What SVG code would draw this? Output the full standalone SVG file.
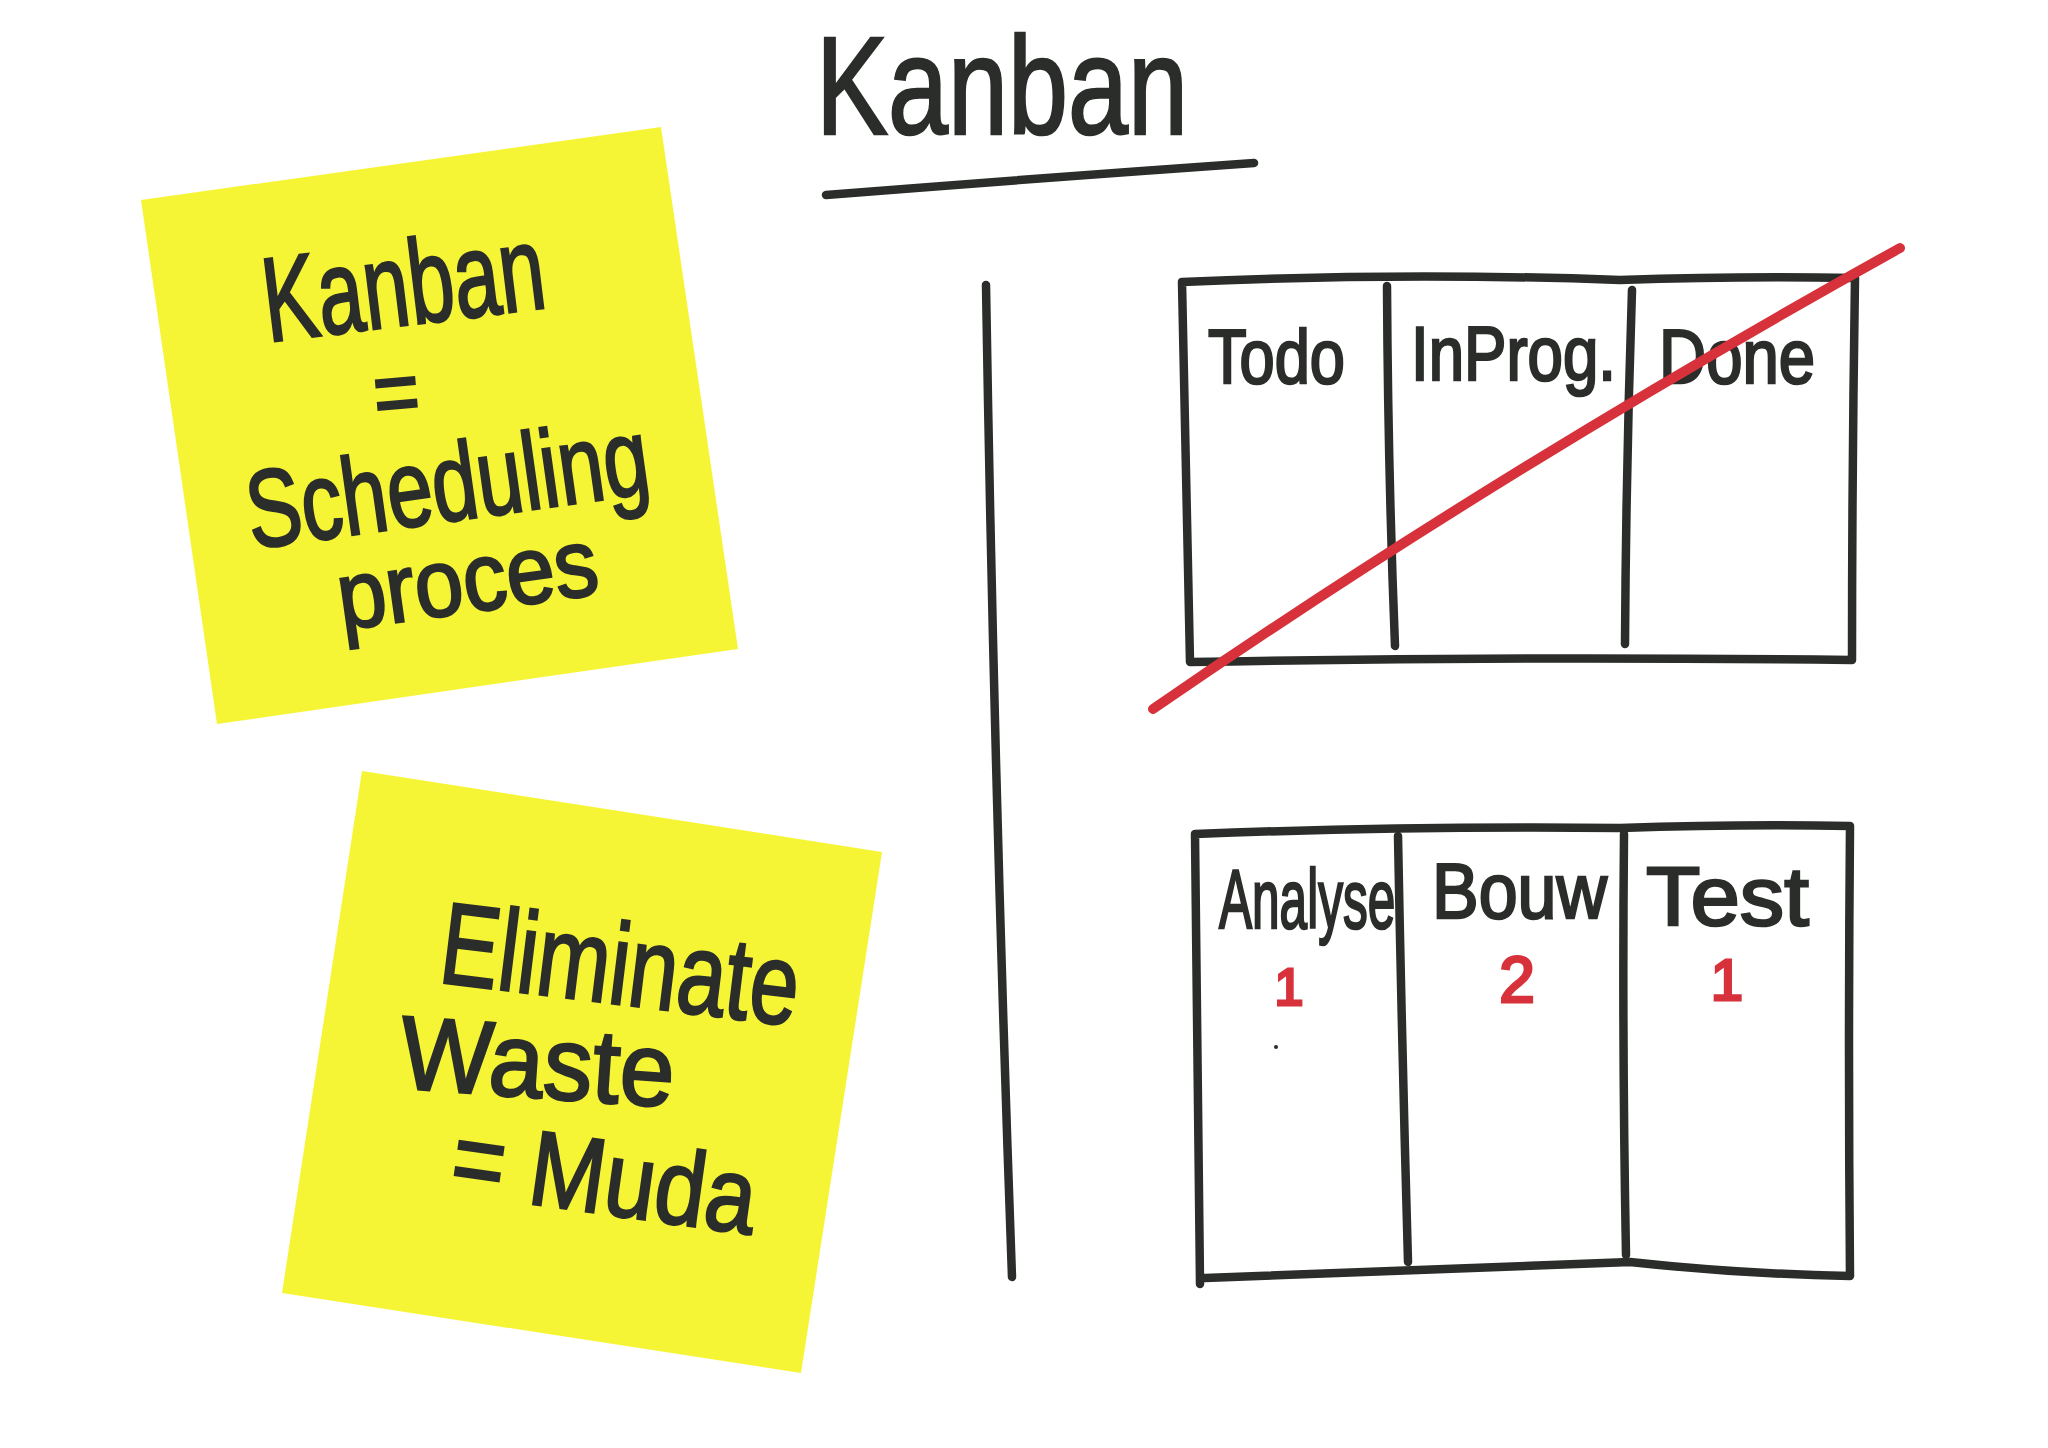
<svg xmlns="http://www.w3.org/2000/svg" width="2048" height="1448" viewBox="0 0 2048 1448">
<style>
.ink{fill:none;stroke:#2a2d2a;stroke-width:8.5;stroke-linecap:round;stroke-linejoin:round}
.red{fill:none;stroke:#d7323b;stroke-width:10;stroke-linecap:round}
.sticky{fill:#f6f535}
.hw{font-family:"Liberation Sans","DejaVu Sans",sans-serif;fill:#2a2d2a;stroke:#2a2d2a;stroke-width:2.5}
.rn{font-family:"Liberation Sans","DejaVu Sans",sans-serif;fill:#d7323b;stroke:#d7323b;stroke-width:3;text-anchor:middle}
</style>
<rect width="2048" height="1448" fill="#ffffff"/>

<g id="title">
<text class="hw" x="816" y="134" font-size="140" textLength="372" lengthAdjust="spacingAndGlyphs">Kanban</text>
<path class="ink" d="M826 195 Q1040 178 1254 163"/>
</g>

<g id="sticky-kanban">
<polygon class="sticky" points="141,200 661,127 738,649 217,724"/>
<text class="hw" x="268" y="342" font-size="120" textLength="283" lengthAdjust="spacingAndGlyphs" transform="rotate(-7 268 342)">Kanban</text>
<text class="hw" x="376" y="425" font-size="90" textLength="46" lengthAdjust="spacingAndGlyphs" transform="rotate(-5 376 425)">=</text>
<text class="hw" x="252" y="549" font-size="110" textLength="405" lengthAdjust="spacingAndGlyphs" transform="rotate(-8 252 549)">Scheduling</text>
<text class="hw" x="342" y="630" font-size="96" textLength="262" lengthAdjust="spacingAndGlyphs" transform="rotate(-8 342 630)">proces</text>
</g>

<g id="sticky-waste">
<polygon class="sticky" points="362,771 882,852 801,1373 282,1293"/>
<text class="hw" x="437" y="982" font-size="116" textLength="360" lengthAdjust="spacingAndGlyphs" transform="rotate(7 437 982)">Eliminate</text>
<text class="hw" x="398" y="1088" font-size="104" textLength="275" lengthAdjust="spacingAndGlyphs" transform="rotate(4 398 1088)">Waste</text>
<text class="hw" x="448" y="1192" font-size="106" textLength="306" lengthAdjust="spacingAndGlyphs" transform="rotate(8 448 1192)">= Muda</text>
</g>

<g id="divider">
<path class="ink" d="M986 285 Q994 780 1012 1277"/>
</g>

<g id="board-old">
<path class="ink" d="M1182 282 Q1400 272 1620 280 Q1740 276 1855 278 Q1852 470 1852 660 Q1520 656 1190 662 Q1186 470 1182 282 Z"/>
<path class="ink" d="M1387 286 Q1388 470 1395 646"/>
<path class="ink" d="M1632 290 Q1626 470 1625 644"/>
<text class="hw" x="1208" y="383" font-size="76" textLength="137" lengthAdjust="spacingAndGlyphs">Todo</text>
<text class="hw" x="1411" y="380" font-size="76" textLength="205" lengthAdjust="spacingAndGlyphs">InProg.</text>
<text class="hw" x="1659" y="383" font-size="76" textLength="156" lengthAdjust="spacingAndGlyphs">Done</text>
</g>

<g id="board-new">
<path class="ink" d="M1195 834 Q1400 826 1620 828 Q1740 824 1850 826 Q1848 1050 1850 1276 Q1740 1274 1630 1262 Q1420 1270 1205 1278 M1195 834 Q1198 1060 1200 1284"/>
<path class="ink" d="M1398 836 Q1402 1050 1408 1262"/>
<path class="ink" d="M1624 834 Q1622 1040 1626 1255"/>
<text class="hw" x="0" y="0" font-size="84" transform="translate(1219 928) scale(0.59 1)">Analyse</text>
<text class="hw" x="1432" y="918" font-size="78" textLength="175" lengthAdjust="spacingAndGlyphs">Bouw</text>
<text class="hw" x="1646" y="925" font-size="84" textLength="163" lengthAdjust="spacingAndGlyphs">Test</text>
<text class="rn" x="1289" y="1005" font-size="52">1</text>
<text class="rn" x="1517" y="1002" font-size="64">2</text>
<text class="rn" x="1727" y="1000" font-size="58">1</text>
<circle cx="1276" cy="1047" r="2" fill="#2a2d2a"/>
</g>

<g id="connectors">
<path class="red" d="M1153 709 Q1500 470 1900 248"/>
</g>
</svg>
